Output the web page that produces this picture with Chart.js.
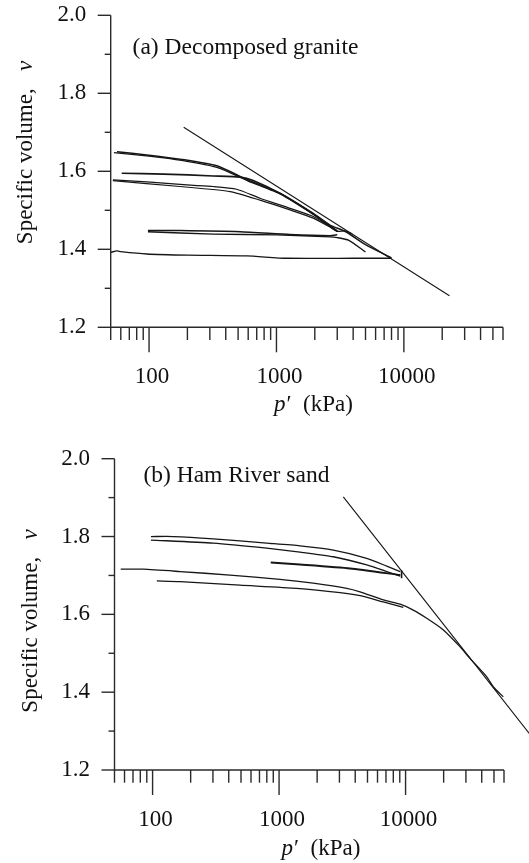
<!DOCTYPE html>
<html><head><meta charset="utf-8">
<script src="https://cdn.jsdelivr.net/npm/chart.js@4.4.1/dist/chart.umd.min.js"></script>
<style>
body{margin:0;background:#fff}
#wrap{position:relative;width:529px;height:863px;background:#fff}
canvas{position:absolute;left:0}
</style>
</head><body>
<div id="wrap">
<canvas id="ca" width="529" height="430" style="top:0"></canvas>
<canvas id="cb" width="529" height="433" style="top:430px"></canvas>
</div>
<script>
// ---------- tick values ----------
const xTickValues = [50,60,70,80,90,100,200,300,400,500,600,700,800,900,1000,2000,3000,4000,5000,6000,7000,8000,9000,10000,20000,30000,40000,50000,60000];
const xLabelValues = [100,1000,10000];
const yTickValues = [1.2,1.3,1.4,1.5,1.6,1.7,1.8,1.9,2.0];

// ---------- (a) Decomposed granite ----------
const aNclP = [187, 22800];
const aNclV = [1.713, 1.281];
const a1P = [56, 96, 175, 340, 584, 1067, 1946, 2630, 3500, 5000, 8000];
const a1V = [1.650, 1.642, 1.631, 1.614, 1.579, 1.544, 1.492, 1.462, 1.445, 1.412, 1.378];
const a1bP = [53, 100, 180, 350, 600, 1100, 2000, 2700, 3000];
const a1bV = [1.648, 1.639, 1.628, 1.609, 1.575, 1.540, 1.488, 1.457, 1.446];
const a2P = [61, 130, 319, 518, 650, 1067, 1946, 2630, 3000];
const a2V = [1.595, 1.593, 1.588, 1.585, 1.577, 1.543, 1.490, 1.460, 1.447];
const a3P = [52, 96, 198, 319, 487, 743, 1277, 1946, 2630, 3000];
const a3V = [1.578, 1.573, 1.565, 1.561, 1.554, 1.531, 1.505, 1.484, 1.458, 1.446];
const a4P = [52, 175, 433, 743, 1277, 1946, 2630, 3000, 3470, 3930];
const a4V = [1.576, 1.561, 1.548, 1.526, 1.501, 1.480, 1.457, 1.446, 1.447, 1.440];
const aUpMidP = [98, 175, 518, 1277, 2630, 3000];
const aUpMidV = [1.448, 1.448, 1.445, 1.438, 1.435, 1.437];
const aLoMidP = [98, 319, 1000, 2630, 3000, 3700, 5000];
const aLoMidV = [1.445, 1.439, 1.437, 1.432, 1.430, 1.423, 1.393];
const aBotP = [8000, 4000, 1200, 584, 200, 96, 60, 56, 50];
const aBotV = [1.377, 1.377, 1.377, 1.383, 1.385, 1.388, 1.394, 1.396, 1.392];

// ---------- (b) Ham River sand ----------
const bNclP = [3220, 95000];
const bNclV = [1.902, 1.294];
const b1P = [97, 146, 302, 798, 1463, 2687, 4932, 7100, 9070];
const b1V = [1.800, 1.800, 1.794, 1.783, 1.776, 1.765, 1.744, 1.724, 1.710];
const b2P = [97, 302, 798, 1463, 2687, 4932, 7100, 9070];
const b2V = [1.791, 1.783, 1.770, 1.760, 1.748, 1.727, 1.710, 1.698];
const b3P = [859, 1463, 3640, 9070];
const b3V = [1.733, 1.728, 1.718, 1.701];
const bMarkP = [9300, 9300];
const bMarkV = [1.693, 1.713];
const b4P = [56, 84.5, 165, 409, 1016, 1862, 3425, 4365, 6670, 9070, 11500, 14700, 19900, 26900, 32300, 43700, 49300, 59200];
const b4V = [1.716, 1.716, 1.710, 1.701, 1.690, 1.680, 1.667, 1.658, 1.637, 1.626, 1.611, 1.590, 1.560, 1.517, 1.487, 1.440, 1.414, 1.388];
const b5P = [108, 165, 491, 1377, 3033, 4365, 6670, 9600];
const b5V = [1.686, 1.684, 1.675, 1.667, 1.656, 1.648, 1.632, 1.618];

// ---------- helpers ----------
const FONT = '"Liberation Serif", "Times New Roman", serif';
Chart.defaults.font.family = FONT;
Chart.defaults.color = '#111';

function pts(P, V) { return P.map((p, i) => ({x: p, y: V[i]})); }
function ds(P, V, w) {
  return { data: pts(P, V), borderColor: '#161616', borderWidth: w || 1.3, pointRadius: 0,
           showLine: true, fill: false, tension: 0.2, clip: false };
}

function decor(cfg) {
  return {
    id: 'decor',
    afterDraw(chart) {
      const ctx = chart.ctx, ca = chart.chartArea, xs = chart.scales.x, ys = chart.scales.y;
      ctx.save();
      ctx.strokeStyle = '#2a2a2a';
      ctx.lineWidth = 1.4;
      ctx.beginPath();
      ctx.moveTo(ca.left, ca.top);
      ctx.lineTo(ca.left, ca.bottom);
      ctx.lineTo(ca.right, ca.bottom);
      ctx.stroke();
      xTickValues.forEach(v => {
        const px = xs.getPixelForValue(v);
        const len = xLabelValues.includes(v) ? 25 : 12.7;
        ctx.beginPath(); ctx.moveTo(px, ca.bottom); ctx.lineTo(px, ca.bottom + len); ctx.stroke();
      });
      yTickValues.forEach((v, i) => {
        const py = ys.getPixelForValue(v);
        const len = i % 2 === 0 ? 13 : 6;
        ctx.beginPath(); ctx.moveTo(ca.left - len, py); ctx.lineTo(ca.left, py); ctx.stroke();
      });
      ctx.fillStyle = '#111';
      ctx.textBaseline = 'middle';
      ctx.textAlign = 'left';
      // panel title
      ctx.font = '23.5px ' + FONT;
      ctx.fillText(cfg.panel, cfg.panelX, cfg.panelY);
      // x title: p′ (kPa)
      const it = 'italic 23px ' + FONT, nm = '23px ' + FONT;
      ctx.font = it; const wp = ctx.measureText('p').width;
      ctx.font = nm; const wr = ctx.measureText('\u2032  (kPa)').width;
      let x0 = cfg.xtX - (wp + wr) / 2;
      ctx.font = it; ctx.fillText('p', x0, cfg.xtY);
      ctx.font = nm; ctx.fillText('\u2032  (kPa)', x0 + wp + 1, cfg.xtY);
      // y title
      ctx.translate(cfg.ytX, cfg.ytY);
      ctx.rotate(-Math.PI / 2);
      ctx.font = nm; const w1 = ctx.measureText('Specific volume,   ').width;
      ctx.font = it; const w2 = ctx.measureText('v').width;
      const s = -(w1 + w2) / 2;
      ctx.font = nm; ctx.fillText('Specific volume,', s, 0);
      ctx.font = it; ctx.fillText('v', s + w1, 0);
      ctx.restore();
    }
  };
}

function makeChart(id, datasets, L, cfg) {
  return new Chart(document.getElementById(id), {
    type: 'scatter',
    data: { datasets },
    options: {
      responsive: false, animation: false, devicePixelRatio: 1,
      layout: { padding: { left: 0, top: L.top, right: L.right, bottom: 0 } },
      plugins: { legend: { display: false }, tooltip: { enabled: false } },
      scales: {
        x: {
          type: 'logarithmic', min: 50, max: 60000,
          grid: { display: false, drawTicks: false },
          border: { display: false },
          afterBuildTicks: s => { s.ticks = xTickValues.map(v => ({ value: v })); },
          afterFit: s => { s.height = L.xh; s.paddingLeft = 0; s.paddingRight = 0; },
          ticks: {
            autoSkip: false, maxRotation: 0, minRotation: 0, padding: 36, labelOffset: 3,
            font: { size: 23, family: FONT }, color: '#111',
            callback: v => xLabelValues.includes(v) ? String(v) : ''
          }
        },
        y: {
          type: 'linear', min: 1.2, max: 2.0,
          grid: { display: false, drawTicks: false },
          border: { display: false },
          afterBuildTicks: s => { s.ticks = yTickValues.map(v => ({ value: v })); },
          afterFit: s => { s.width = L.yw; s.paddingTop = 0; s.paddingBottom = 0; },
          ticks: {
            autoSkip: false, padding: 24.5,
            font: { size: 23, family: FONT }, color: '#111',
            callback: (v, i) => i % 2 === 0 ? Number(v).toFixed(1) : ''
          }
        }
      }
    },
    plugins: [decor(cfg)]
  });
}

makeChart('ca', [
  ds(aNclP, aNclV, 1.1),
  ds(a1P, a1V, 1.5), ds(a1bP, a1bV, 1.3),
  ds(a2P, a2V, 1.7), ds(a3P, a3V, 1.2), ds(a4P, a4V, 1.2),
  ds(aUpMidP, aUpMidV, 1.5), ds(aLoMidP, aLoMidV, 1.3),
  ds(aBotP, aBotV, 1.3)
], { top: 15.3, right: 26, xh: 430 - 327.3, yw: 110.7 },
{ panel: '(a) Decomposed granite', panelX: 132.6, panelY: 47.5, xtX: 313, xtY: 405, ytX: 25.5, ytY: 152.5 });

makeChart('cb', [
  ds(bNclP, bNclV, 1.1),
  ds(b1P, b1V, 1.3), ds(b2P, b2V, 1.3),
  ds(b3P, b3V, 2.0), ds(bMarkP, bMarkV, 1.6),
  ds(b4P, b4V, 1.3), ds(b5P, b5V, 1.3)
], { top: 28.7, right: 25, xh: 433 - 340, yw: 114.5 },
{ panel: '(b) Ham River sand', panelX: 143.4, panelY: 46, xtX: 320.5, xtY: 419, ytX: 31.2, ytY: 191 });
</script>
</body></html>
